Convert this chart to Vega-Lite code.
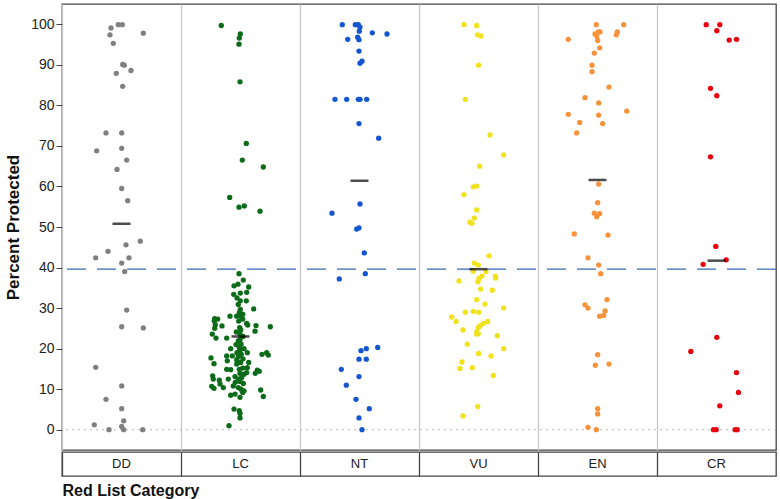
{
  "$schema": "https://vega.github.io/schema/vega-lite/v6.json",
  "padding": {"left": 3, "top": 3, "right": 4, "bottom": 2},
  "background": "white",
  "config": {
    "font": "Liberation Sans",
    "view": {"stroke": "#444", "strokeWidth": 1.3},
    "concat": {"spacing": 0}
  },
  "datasets": {
    "pts": [
      {"cat":"DD","jit":-10.5,"pct":99.1},{"cat":"DD","jit":-3.2,"pct":99.9},{"cat":"DD","jit":0.8,"pct":99.9},{"cat":"DD","jit":-11.5,"pct":97.4},{"cat":"DD","jit":21.8,"pct":97.8},{"cat":"DD","jit":-8.2,"pct":95.3},{"cat":"DD","jit":1.2,"pct":90.1},{"cat":"DD","jit":2.8,"pct":89.9},{"cat":"DD","jit":-5.2,"pct":87.9},{"cat":"DD","jit":9.5,"pct":88.6},{"cat":"DD","jit":1.2,"pct":84.7},{"cat":"DD","jit":-15.5,"pct":73.2},{"cat":"DD","jit":0.2,"pct":73.2},{"cat":"DD","jit":-24.8,"pct":68.8},{"cat":"DD","jit":0.2,"pct":69.4},{"cat":"DD","jit":5.2,"pct":66.5},{"cat":"DD","jit":-4.5,"pct":64.2},{"cat":"DD","jit":0.2,"pct":59.5},{"cat":"DD","jit":6.2,"pct":56.5},{"cat":"DD","jit":18.8,"pct":46.5},{"cat":"DD","jit":4.5,"pct":45.6},{"cat":"DD","jit":-13.5,"pct":44.0},{"cat":"DD","jit":-25.8,"pct":42.4},{"cat":"DD","jit":7.5,"pct":42.4},{"cat":"DD","jit":0.2,"pct":41.1},{"cat":"DD","jit":3.2,"pct":39.0},{"cat":"DD","jit":5.2,"pct":29.5},{"cat":"DD","jit":0.2,"pct":25.4},{"cat":"DD","jit":21.8,"pct":25.1},{"cat":"DD","jit":-25.8,"pct":15.4},{"cat":"DD","jit":0.2,"pct":10.8},{"cat":"DD","jit":-15.5,"pct":7.5},{"cat":"DD","jit":0.2,"pct":5.2},{"cat":"DD","jit":2.2,"pct":2.2},{"cat":"DD","jit":-27.2,"pct":1.2},{"cat":"DD","jit":0.2,"pct":0.8},{"cat":"DD","jit":-12.5,"pct":0},{"cat":"DD","jit":2.2,"pct":0},{"cat":"DD","jit":21.2,"pct":0},

      {"cat":"LC","jit":-19.2,"pct":99.7},{"cat":"LC","jit":-0.2,"pct":97.6},{"cat":"LC","jit":-1.2,"pct":96.6},{"cat":"LC","jit":-1.5,"pct":95.1},{"cat":"LC","jit":-0.5,"pct":85.8},{"cat":"LC","jit":5.8,"pct":70.6},{"cat":"LC","jit":1.8,"pct":66.5},{"cat":"LC","jit":22.8,"pct":64.8},{"cat":"LC","jit":-10.8,"pct":57.3},{"cat":"LC","jit":-1.5,"pct":54.9},{"cat":"LC","jit":3.8,"pct":55.2},{"cat":"LC","jit":19.5,"pct":53.9},
      {"cat":"LC","jit":-1.5,"pct":38.5},{"cat":"LC","jit":2.8,"pct":36.9},{"cat":"LC","jit":-6.5,"pct":35.5},{"cat":"LC","jit":-2.5,"pct":35.9},{"cat":"LC","jit":8.2,"pct":35.2},{"cat":"LC","jit":-6.8,"pct":33.4},{"cat":"LC","jit":-0.2,"pct":33.7},{"cat":"LC","jit":6.2,"pct":33.9},{"cat":"LC","jit":-0.2,"pct":31.8},{"cat":"LC","jit":5.8,"pct":31.8},{"cat":"LC","jit":13.2,"pct":29.8},{"cat":"LC","jit":-0.2,"pct":29.7},{"cat":"LC","jit":-2.2,"pct":30.9},{"cat":"LC","jit":-1.2,"pct":28.9},{"cat":"LC","jit":-10.5,"pct":28.0},{"cat":"LC","jit":-3.8,"pct":28.0},{"cat":"LC","jit":0.2,"pct":28.0},{"cat":"LC","jit":2.2,"pct":28.5},{"cat":"LC","jit":-25.8,"pct":27.4},{"cat":"LC","jit":-22.8,"pct":27.3},{"cat":"LC","jit":-26.2,"pct":26.8},{"cat":"LC","jit":2.2,"pct":27.3},{"cat":"LC","jit":-1.8,"pct":26.8},{"cat":"LC","jit":6.2,"pct":26.2},{"cat":"LC","jit":7.2,"pct":25.8},{"cat":"LC","jit":-25.2,"pct":25.9},{"cat":"LC","jit":-25.8,"pct":25.0},{"cat":"LC","jit":-18.5,"pct":25.6},{"cat":"LC","jit":-0.8,"pct":25.2},{"cat":"LC","jit":0.2,"pct":24.6},{"cat":"LC","jit":15.5,"pct":25.7},{"cat":"LC","jit":14.5,"pct":24.3},{"cat":"LC","jit":29.8,"pct":25.4},{"cat":"LC","jit":-4.2,"pct":24.1},{"cat":"LC","jit":-0.5,"pct":23.6},{"cat":"LC","jit":-28.2,"pct":23.6},{"cat":"LC","jit":-24.5,"pct":22.6},{"cat":"LC","jit":-13.8,"pct":22.6},{"cat":"LC","jit":-0.5,"pct":22.2},{"cat":"LC","jit":0.5,"pct":21.1},{"cat":"LC","jit":-2.2,"pct":21.9},{"cat":"LC","jit":-1.2,"pct":20.3},{"cat":"LC","jit":-9.8,"pct":20.0},{"cat":"LC","jit":3.5,"pct":20.0},{"cat":"LC","jit":6.8,"pct":19.0},{"cat":"LC","jit":-0.8,"pct":19.5},{"cat":"LC","jit":0.8,"pct":18.6},{"cat":"LC","jit":-2.2,"pct":18.0},{"cat":"LC","jit":21.5,"pct":18.6},{"cat":"LC","jit":26.2,"pct":19.0},{"cat":"LC","jit":27.8,"pct":18.4},{"cat":"LC","jit":-13.8,"pct":18.2},{"cat":"LC","jit":-8.2,"pct":18.2},{"cat":"LC","jit":-13.2,"pct":17.0},{"cat":"LC","jit":-29.5,"pct":17.7},{"cat":"LC","jit":-26.5,"pct":16.3},{"cat":"LC","jit":-3.8,"pct":17.2},{"cat":"LC","jit":0.2,"pct":16.6},{"cat":"LC","jit":-3.8,"pct":16.2},{"cat":"LC","jit":8.2,"pct":16.6},{"cat":"LC","jit":6.8,"pct":15.3},{"cat":"LC","jit":-13.8,"pct":14.9},{"cat":"LC","jit":-9.8,"pct":14.8},{"cat":"LC","jit":-1.2,"pct":14.9},{"cat":"LC","jit":2.2,"pct":15.2},{"cat":"LC","jit":16.8,"pct":14.7},{"cat":"LC","jit":14.8,"pct":13.9},{"cat":"LC","jit":18.8,"pct":14.4},{"cat":"LC","jit":-0.5,"pct":13.9},{"cat":"LC","jit":3.5,"pct":13.7},{"cat":"LC","jit":6.2,"pct":14.1},{"cat":"LC","jit":-27.8,"pct":13.3},{"cat":"LC","jit":-27.2,"pct":12.5},{"cat":"LC","jit":-21.2,"pct":12.2},{"cat":"LC","jit":-12.2,"pct":12.5},{"cat":"LC","jit":-5.5,"pct":13.1},{"cat":"LC","jit":-2.2,"pct":12.5},{"cat":"LC","jit":1.2,"pct":12.9},{"cat":"LC","jit":-5.2,"pct":11.7},{"cat":"LC","jit":-0.5,"pct":11.9},{"cat":"LC","jit":2.8,"pct":11.4},{"cat":"LC","jit":-28.8,"pct":10.7},{"cat":"LC","jit":-26.5,"pct":10.2},{"cat":"LC","jit":-20.5,"pct":11.3},{"cat":"LC","jit":-17.2,"pct":10.4},{"cat":"LC","jit":-7.2,"pct":10.8},{"cat":"LC","jit":-2.2,"pct":10.4},{"cat":"LC","jit":0.5,"pct":10.0},{"cat":"LC","jit":3.5,"pct":9.6},{"cat":"LC","jit":20.2,"pct":9.8},{"cat":"LC","jit":22.8,"pct":8.2},{"cat":"LC","jit":-9.8,"pct":8.5},{"cat":"LC","jit":-5.5,"pct":8.8},{"cat":"LC","jit":-0.5,"pct":8.0},{"cat":"LC","jit":2.2,"pct":9.2},{"cat":"LC","jit":-6.5,"pct":5.1},{"cat":"LC","jit":-1.2,"pct":4.7},{"cat":"LC","jit":-0.5,"pct":4.0},{"cat":"LC","jit":-0.5,"pct":2.9},{"cat":"LC","jit":-11.5,"pct":1.0},{"cat":"LC","jit":-3.5,"pct":32.5},{"cat":"LC","jit":2.5,"pct":23.0},{"cat":"LC","jit":-3.5,"pct":19.0},{"cat":"LC","jit":2.5,"pct":17.5},{"cat":"LC","jit":-4.5,"pct":21.0},

      {"cat":"NT","jit":-17.2,"pct":99.9},{"cat":"NT","jit":-4.2,"pct":99.9},{"cat":"NT","jit":-1.2,"pct":99.9},{"cat":"NT","jit":0.5,"pct":99.3},{"cat":"NT","jit":-0.2,"pct":98.3},{"cat":"NT","jit":12.8,"pct":97.9},{"cat":"NT","jit":27.5,"pct":97.6},{"cat":"NT","jit":-11.8,"pct":96.3},{"cat":"NT","jit":-1.8,"pct":96.8},{"cat":"NT","jit":-0.5,"pct":96.2},{"cat":"NT","jit":-0.5,"pct":93.4},{"cat":"NT","jit":0.5,"pct":90.4},{"cat":"NT","jit":2.5,"pct":90.9},{"cat":"NT","jit":-24.5,"pct":81.5},{"cat":"NT","jit":-12.8,"pct":81.5},{"cat":"NT","jit":-1.2,"pct":81.5},{"cat":"NT","jit":0.5,"pct":81.5},{"cat":"NT","jit":7.2,"pct":81.5},{"cat":"NT","jit":-0.5,"pct":75.5},{"cat":"NT","jit":19.2,"pct":71.9},{"cat":"NT","jit":0.5,"pct":55.7},{"cat":"NT","jit":-27.5,"pct":53.4},{"cat":"NT","jit":-2.8,"pct":49.5},{"cat":"NT","jit":-0.5,"pct":49.8},{"cat":"NT","jit":4.8,"pct":43.6},{"cat":"NT","jit":-20.2,"pct":37.2},{"cat":"NT","jit":5.8,"pct":38.5},{"cat":"NT","jit":18.2,"pct":20.3},{"cat":"NT","jit":1.5,"pct":19.5},{"cat":"NT","jit":6.8,"pct":20.0},{"cat":"NT","jit":-0.5,"pct":17.4},{"cat":"NT","jit":6.8,"pct":17.4},{"cat":"NT","jit":-18.2,"pct":14.9},{"cat":"NT","jit":-0.5,"pct":13.1},{"cat":"NT","jit":-13.2,"pct":11.0},{"cat":"NT","jit":-3.5,"pct":7.5},{"cat":"NT","jit":9.8,"pct":5.2},{"cat":"NT","jit":-0.5,"pct":2.9},{"cat":"NT","jit":2.5,"pct":0},

      {"cat":"VU","jit":-14.5,"pct":99.9},{"cat":"VU","jit":-1.8,"pct":99.7},{"cat":"VU","jit":-0.8,"pct":97.4},{"cat":"VU","jit":2.5,"pct":97.1},{"cat":"VU","jit":0.2,"pct":89.9},{"cat":"VU","jit":-13.2,"pct":81.5},{"cat":"VU","jit":11.5,"pct":72.7},{"cat":"VU","jit":25.2,"pct":67.8},{"cat":"VU","jit":1.2,"pct":65.0},{"cat":"VU","jit":-5.2,"pct":59.9},{"cat":"VU","jit":-1.8,"pct":60.1},{"cat":"VU","jit":-14.5,"pct":58.0},{"cat":"VU","jit":-1.8,"pct":54.2},{"cat":"VU","jit":-4.2,"pct":52.2},{"cat":"VU","jit":-8.5,"pct":51.2},{"cat":"VU","jit":-6.5,"pct":50.9},{"cat":"VU","jit":10.5,"pct":42.9},{"cat":"VU","jit":-4.2,"pct":41.1},{"cat":"VU","jit":-0.2,"pct":40.6},{"cat":"VU","jit":-5.2,"pct":39.1},{"cat":"VU","jit":7.5,"pct":39.0},{"cat":"VU","jit":-19.5,"pct":36.7},{"cat":"VU","jit":0.5,"pct":37.3},{"cat":"VU","jit":3.5,"pct":37.9},{"cat":"VU","jit":-0.5,"pct":36.5},{"cat":"VU","jit":16.8,"pct":37.9},{"cat":"VU","jit":17.2,"pct":37.4},{"cat":"VU","jit":2.2,"pct":34.7},{"cat":"VU","jit":13.8,"pct":34.4},{"cat":"VU","jit":-1.8,"pct":32.1},{"cat":"VU","jit":6.5,"pct":31.0},{"cat":"VU","jit":25.2,"pct":30.0},{"cat":"VU","jit":-13.2,"pct":29.0},{"cat":"VU","jit":-5.2,"pct":29.2},{"cat":"VU","jit":0.2,"pct":29.0},{"cat":"VU","jit":-26.8,"pct":27.8},{"cat":"VU","jit":-22.5,"pct":26.7},{"cat":"VU","jit":9.2,"pct":26.7},{"cat":"VU","jit":4.8,"pct":26.2},{"cat":"VU","jit":1.5,"pct":25.6},{"cat":"VU","jit":-15.5,"pct":24.6},{"cat":"VU","jit":-0.2,"pct":25.2},{"cat":"VU","jit":-1.8,"pct":24.1},{"cat":"VU","jit":-0.2,"pct":23.7},{"cat":"VU","jit":-1.8,"pct":23.6},{"cat":"VU","jit":18.8,"pct":23.2},{"cat":"VU","jit":-11.2,"pct":21.1},{"cat":"VU","jit":25.2,"pct":20.0},{"cat":"VU","jit":0.2,"pct":18.8},{"cat":"VU","jit":12.5,"pct":18.2},{"cat":"VU","jit":-16.5,"pct":16.7},{"cat":"VU","jit":-18.5,"pct":15.1},{"cat":"VU","jit":-6.2,"pct":15.3},{"cat":"VU","jit":14.8,"pct":13.4},{"cat":"VU","jit":-0.8,"pct":5.7},{"cat":"VU","jit":-15.5,"pct":3.4},

      {"cat":"EN","jit":-1.2,"pct":99.9},{"cat":"EN","jit":26.2,"pct":99.9},{"cat":"EN","jit":-2.5,"pct":97.6},{"cat":"EN","jit":0.8,"pct":98.1},{"cat":"EN","jit":2.5,"pct":98.1},{"cat":"EN","jit":-0.8,"pct":97.1},{"cat":"EN","jit":0.2,"pct":96.0},{"cat":"EN","jit":19.8,"pct":98.1},{"cat":"EN","jit":18.8,"pct":97.4},{"cat":"EN","jit":-29.2,"pct":96.3},{"cat":"EN","jit":2.2,"pct":94.2},{"cat":"EN","jit":-3.2,"pct":92.9},{"cat":"EN","jit":-5.5,"pct":89.9},{"cat":"EN","jit":-5.5,"pct":88.3},{"cat":"EN","jit":11.5,"pct":84.5},{"cat":"EN","jit":-12.5,"pct":81.9},{"cat":"EN","jit":1.2,"pct":80.6},{"cat":"EN","jit":29.2,"pct":78.6},{"cat":"EN","jit":-29.2,"pct":77.8},{"cat":"EN","jit":1.2,"pct":77.6},{"cat":"EN","jit":-17.8,"pct":75.8},{"cat":"EN","jit":5.2,"pct":75.5},{"cat":"EN","jit":-20.8,"pct":73.2},{"cat":"EN","jit":1.2,"pct":60.6},{"cat":"EN","jit":0.2,"pct":56.0},{"cat":"EN","jit":-3.2,"pct":53.4},{"cat":"EN","jit":2.2,"pct":53.3},{"cat":"EN","jit":-0.8,"pct":52.5},{"cat":"EN","jit":-23.2,"pct":48.3},{"cat":"EN","jit":10.5,"pct":48.0},{"cat":"EN","jit":-9.5,"pct":42.4},{"cat":"EN","jit":1.2,"pct":40.6},{"cat":"EN","jit":3.2,"pct":38.5},{"cat":"EN","jit":9.5,"pct":32.1},{"cat":"EN","jit":-12.5,"pct":30.8},{"cat":"EN","jit":-9.5,"pct":30.0},{"cat":"EN","jit":7.5,"pct":29.3},{"cat":"EN","jit":6.2,"pct":28.2},{"cat":"EN","jit":2.2,"pct":28.0},{"cat":"EN","jit":0.2,"pct":18.5},{"cat":"EN","jit":-2.2,"pct":15.9},{"cat":"EN","jit":11.5,"pct":16.2},{"cat":"EN","jit":0.2,"pct":5.2},{"cat":"EN","jit":0.2,"pct":3.9},{"cat":"EN","jit":-9.5,"pct":0.6},{"cat":"EN","jit":-1.2,"pct":0},

      {"cat":"CR","jit":-10.3,"pct":99.9},{"cat":"CR","jit":3.3,"pct":99.9},{"cat":"CR","jit":0.3,"pct":98.4},{"cat":"CR","jit":12.7,"pct":96.1},{"cat":"CR","jit":20,"pct":96.3},{"cat":"CR","jit":-6,"pct":84.2},{"cat":"CR","jit":0.3,"pct":82.4},{"cat":"CR","jit":-6,"pct":67.3},{"cat":"CR","jit":-0.7,"pct":45.2},{"cat":"CR","jit":9.7,"pct":41.9},{"cat":"CR","jit":-13.3,"pct":40.8},{"cat":"CR","jit":0.3,"pct":22.8},{"cat":"CR","jit":-25.7,"pct":19.3},{"cat":"CR","jit":20,"pct":14.1},{"cat":"CR","jit":22,"pct":9.2},{"cat":"CR","jit":3.3,"pct":5.9},{"cat":"CR","jit":-3,"pct":0},{"cat":"CR","jit":-0.3,"pct":0},{"cat":"CR","jit":18.7,"pct":0},{"cat":"CR","jit":20.7,"pct":0}
    ],
    "means": [
      {"cat":"DD","mean":50.8},{"cat":"LC","mean":23.0},{"cat":"NT","mean":61.4},{"cat":"VU","mean":39.6},{"cat":"EN","mean":61.6},{"cat":"CR","mean":41.7}
    ],
    "cats": [
      {"cat":"DD"},{"cat":"LC"},{"cat":"NT"},{"cat":"VU"},{"cat":"EN"},{"cat":"CR"}
    ],
    "refs": [
      {"overall": 39.6, "zero": 0}
    ]
  },
  "vconcat": [
    {
      "width": 714,
      "height": 446,
      "layer": [
        {
          "data": {"name": "cats"},
          "mark": {"type": "point", "opacity": 0},
          "encoding": {
            "x": {"field": "cat", "type": "nominal", "sort": ["DD","LC","NT","VU","EN","CR"],
                  "scale": {"type": "band", "paddingInner": 0, "paddingOuter": 0},
                  "axis": {"title": null, "labels": false, "ticks": false, "domain": false, "grid": true, "bandPosition": 0, "gridColor": "#c8c8c8", "gridWidth": 1.3}},
            "y": {"datum": 50, "type": "quantitative"}
          }
        },
        {
          "data": {"name": "refs"},
          "mark": {"type": "rule", "color": "#b8b8b8", "strokeDash": [2, 4], "strokeWidth": 1},
          "encoding": {"y": {"field": "zero", "type": "quantitative"}}
        },
        {
          "data": {"name": "refs"},
          "mark": {"type": "rule", "color": "#3569b5", "strokeDash": [19, 11], "strokeWidth": 1.2},
          "encoding": {"y": {"field": "overall", "type": "quantitative"}}
        },
        {
          "data": {"name": "pts"},
          "mark": {"type": "circle", "size": 28, "opacity": 1},
          "encoding": {
            "x": {"field": "cat", "type": "nominal", "sort": ["DD","LC","NT","VU","EN","CR"]},
            "xOffset": {"field": "jit", "type": "quantitative", "scale": {"domain": [-59.5, 59.5]}},
            "y": {"field": "pct", "type": "quantitative",
                  "scale": {"domain": [-5, 105], "nice": false, "zero": false},
                  "axis": {"title": "Percent  Protected", "titleFontSize": 17, "titleFontWeight": "bold", "titleColor": "#111", "titlePadding": 8,
                           "values": [0,10,20,30,40,50,60,70,80,90,100], "grid": false, "domain": false,
                           "tickColor": "#444", "tickSize": 6, "labelFontSize": 14, "labelColor": "#222", "labelPadding": 2}},
            "color": {"field": "cat", "type": "nominal",
                      "scale": {"domain": ["DD","LC","NT","VU","EN","CR"], "range": ["#808080","#0b6b18","#1456cf","#f0e21c","#f7923c","#e8000e"]},
                      "legend": null}
          }
        },
        {
          "data": {"name": "means"},
          "mark": {"type": "tick", "color": "black", "size": 18, "thickness": 2.5, "orient": "horizontal"},
          "encoding": {
            "x": {"field": "cat", "type": "nominal", "sort": ["DD","LC","NT","VU","EN","CR"]},
            "y": {"field": "mean", "type": "quantitative"}
          }
        }
      ]
    },
    {
      "width": 714,
      "height": 24,
      "data": {"name": "cats"},
      "mark": {"type": "text", "fontSize": 13, "color": "#222", "baseline": "middle"},
      "encoding": {
        "x": {"field": "cat", "type": "nominal", "sort": ["DD","LC","NT","VU","EN","CR"],
              "scale": {"type": "band", "paddingInner": 0, "paddingOuter": 0},
              "axis": {"title": "Red List Category", "titleAnchor": "start", "titleFontSize": 16, "titleFontWeight": "bold", "titleColor": "#111", "titlePadding": 6,
                       "labels": false, "ticks": false, "domain": false, "grid": true, "bandPosition": 0, "gridColor": "#444", "gridWidth": 1.3}},
        "text": {"field": "cat"}
      }
    }
  ]
}
